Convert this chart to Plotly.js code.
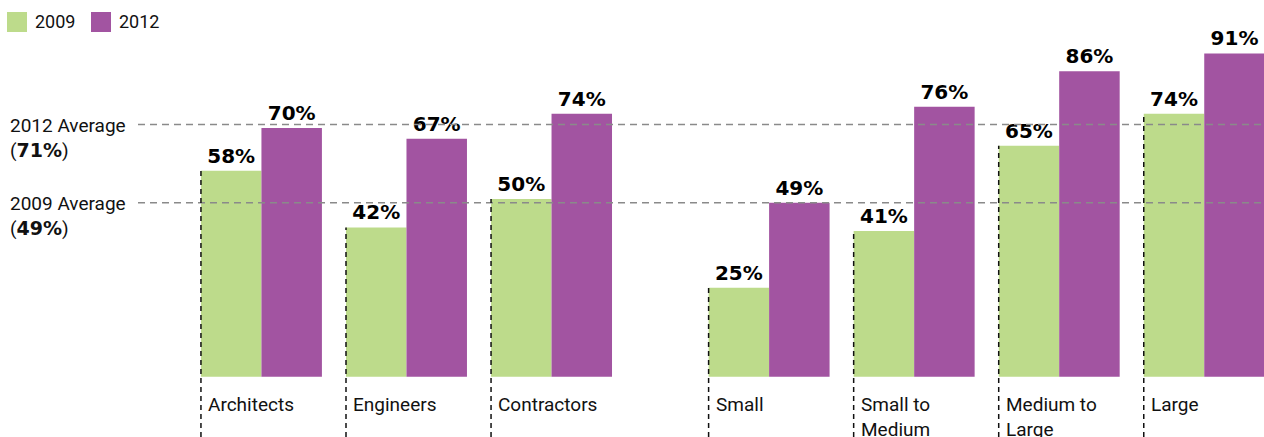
<!DOCTYPE html>
<html>
<head>
<meta charset="utf-8">
<script src="https://cdn.plot.ly/plotly-3.0.1.min.js"></script>
<style>html,body{margin:0;padding:0;background:#fff;}#chart{width:1264px;height:437px;}</style>
</head>
<body>
<div id="chart"></div>
<script>
// ---- data ----
const categories = ['Architects', 'Engineers', 'Contractors', 'Small', 'Small to<br>Medium', 'Medium to<br>Large', 'Large'];
const seriesNames = ['2009', '2012'];
const values2009 = [58, 42, 50, 25, 41, 65, 74];
const values2012 = [70, 67, 74, 49, 76, 86, 91];
const avgNames = ['2012', '2009'];
const avgValues = [71, 49];

// ---- layout helpers ----
const W = 1264, H = 437, ML = 138, MT = 40;
const PW = W - ML, PH = H - MT;
const px2x = p => (p - ML) / PW;
const py2y = p => (H - p) / PH;
const BARGAP = 0.166;
const half = (1 - BARGAP) / 2;
// second section (firm size) is shifted by half a group
const xPos = categories.map((c, i) => i + (i >= 3 ? 0.5 : 0));

const green = '#bddb8b', purple = '#a254a1';
const labelFont = 'Roboto, "Liberation Sans", Arial, sans-serif';
const valueFont = '"DejaVu Sans", Verdana, sans-serif';
const yMin = -17, yMax = 94.8;

const mkTrace = (name, vals, color) => ({
  type: 'bar', name: name, x: xPos, y: vals,
  marker: {color: color, line: {width: 0}},
  texttemplate: '<b>%{y}%</b>', textposition: 'outside', cliponaxis: false,
  constraintext: 'none',
  textfont: {family: valueFont, size: 20, color: '#000'},
  hoverinfo: 'skip'
});

const data = [mkTrace(seriesNames[0], values2009, green), mkTrace(seriesNames[1], values2012, purple)];

const shapes = [];
const annotations = [];

// average lines
avgValues.forEach((v, i) => {
  shapes.push({type: 'line', xref: 'paper', yref: 'y', x0: 0, x1: 1, y0: v, y1: v,
    line: {color: '#8a8a8a', width: 1.5, dash: '7px,5px'}, layer: 'above'});
  annotations.push({xref: 'paper', yref: 'y', x: px2x(8), y: v, xanchor: 'left', yanchor: 'top',
    yshift: 13, align: 'left', showarrow: false,
    text: avgNames[i] + ' Average<br>(<span style="font-family:DejaVu Sans;font-weight:bold">' + v + '%</span>)',
    font: {family: labelFont, size: 19, color: '#111'}});
});

// group separators + category labels
categories.forEach((c, i) => {
  const xl = xPos[i] - half;
  shapes.push({type: 'line', xref: 'x', yref: 'y', x0: xl, x1: xl, y0: yMin, y1: values2009[i],
    line: {color: '#111', width: 1.5, dash: '5px,4px'}, layer: 'above'});
  annotations.push({xref: 'x', yref: 'y', x: xl, y: 0, xanchor: 'left', yanchor: 'top',
    xshift: 5, yshift: -14, align: 'left', showarrow: false, text: c,
    font: {family: labelFont, size: 19, color: '#111'}});
});

// custom legend
[[7, green, seriesNames[0]], [91, purple, seriesNames[1]]].forEach(([p, col, name]) => {
  shapes.push({type: 'rect', xref: 'paper', yref: 'paper', x0: px2x(p), x1: px2x(p + 20),
    y0: py2y(32), y1: py2y(12), fillcolor: col, line: {width: 0}});
  annotations.push({xref: 'paper', yref: 'paper', x: px2x(p + 26), y: py2y(22), xanchor: 'left',
    yanchor: 'middle', showarrow: false, text: name,
    font: {family: labelFont, size: 18, color: '#111'}});
});

const layout = {
  width: W, height: H,
  margin: {l: ML, r: 0, t: MT, b: 0, pad: 0},
  paper_bgcolor: '#fff', plot_bgcolor: '#fff',
  barmode: 'group', bargap: BARGAP, bargroupgap: 0,
  showlegend: false,
  xaxis: {range: [-0.851, 6.912], visible: false, fixedrange: true},
  yaxis: {range: [yMin, yMax], visible: false, fixedrange: true},
  shapes: shapes, annotations: annotations
};

Plotly.newPlot('chart', data, layout, {displayModeBar: false, staticPlot: true});
</script>
</body>
</html>
